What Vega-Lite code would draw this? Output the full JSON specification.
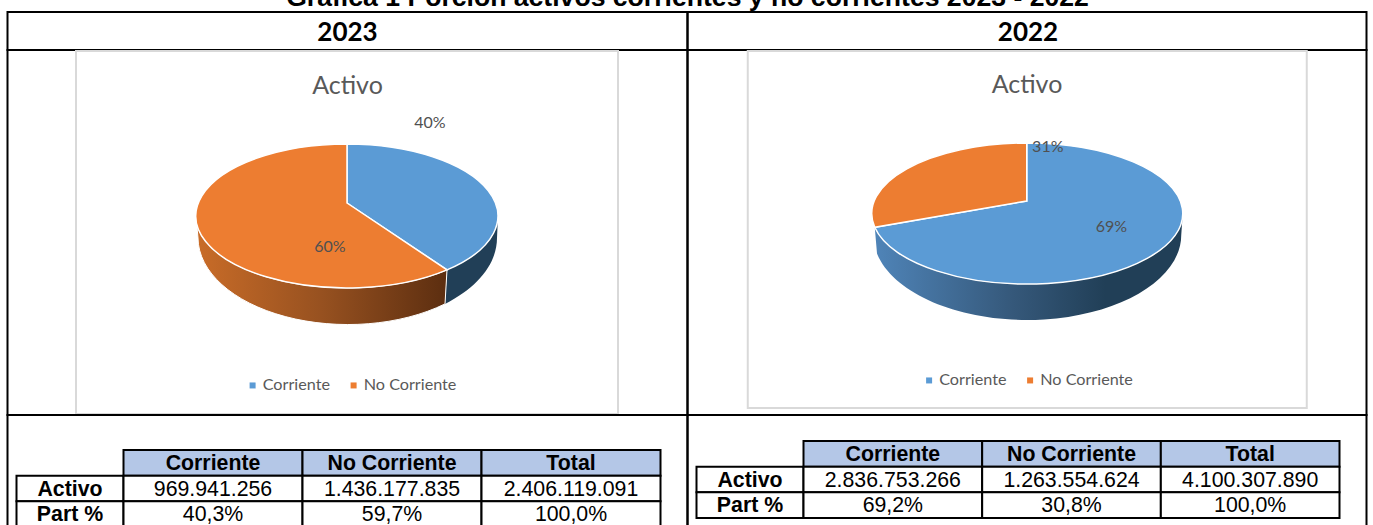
{"$schema":"https://vega.github.io/schema/vega-lite/v6.json","background":"white","padding":{"left":6.5,"top":0,"right":0,"bottom":0},"spacing":0,"config":{"view":{"stroke":null}},"resolve":{"scale":{"color":"independent","fill":"independent","shape":"independent"},"legend":{"color":"independent"}},"vconcat":[
{"width":1360,"height":11,"data":{"values":[{"titulo":"Gráfica 1 Porción activos corrientes y no corrientes 2023 - 2022"}]},"mark":{"type":"text","clip":true,"font":"Liberation Sans","fontWeight":"bold","fontSize":26.6,"baseline":"alphabetic","dy":0,"color":"black"},"encoding":{"text":{"field":"titulo"}}},
{"columns":2,"bounds":"flush","spacing":0,"resolve":{"scale":{"color":"independent","fill":"independent","shape":"independent"},"legend":{"color":"independent"}},"concat":[
{"width":680,"height":38,"view":{"stroke":"black","strokeWidth":2},"data":{"values":[{"anio":"2023"}]},"mark":{"type":"text","font":"Lato","fontWeight":"bold","fontSize":26,"color":"black","dy":2},"encoding":{"text":{"field":"anio"}}},
{"width":679,"height":38,"view":{"stroke":"black","strokeWidth":2},"data":{"values":[{"anio":"2022"}]},"mark":{"type":"text","font":"Lato","fontWeight":"bold","fontSize":26,"color":"black","dy":2,"dx":1},"encoding":{"text":{"field":"anio"}}},
{"width":680,"height":365,"view":{"stroke":"black","strokeWidth":2},"data":{"values":[{"Segmento":"Corriente","sector":"Corriente","pct":"40%"},{"Segmento":"No Corriente","sector":"No Corriente","pct":"60%"}]},"layer":[
{"data":{"values":[{"e":"marco"}]},"mark":{"type":"point","shape":"M-271.5,-181.5H270.5V181.5H-271.5Z","size":4,"filled":false,"stroke":"#D9D9D9","strokeWidth":2,"opacity":1}},
{"data":{"values":[{"titulo":"Activo"}]},"mark":{"type":"text","font":"Lato","fontSize":25,"color":"#595959","dy":-147},"encoding":{"text":{"field":"titulo"}}},
{"transform":[{"filter":"datum.Segmento==='Corriente'"}],"mark":{"type":"point","shape":"M99.5,37.4A151,72 0 0 0 150.5,-16.5L149.5,5.5A150,87 0 0 1 97.5,71.4Z","size":4,"filled":true,"opacity":1,"fill":"#213F57"}},
{"transform":[{"filter":"datum.Segmento==='No Corriente'"}],"mark":{"type":"point","shape":"M99.5,37.4A151,72 0 0 1 -151.5,-16.5L-149.5,5.5A150,87 0 0 0 97.5,71.4Z","size":4,"filled":true,"opacity":1,"stroke":"white","strokeWidth":1,"fill":{"gradient":"linear","x1":0,"y1":0,"x2":1,"y2":0,"stops":[{"offset":0,"color":"#C96C28"},{"offset":0.5,"color":"#975120"},{"offset":1,"color":"#5C2E10"}]}}},
{"mark":{"type":"point","size":4,"filled":true,"opacity":1,"stroke":"white","strokeWidth":1.5},"encoding":{"shape":{"field":"sector","type":"nominal","legend":null,"scale":{"domain":["No Corriente","Corriente"],"range":["M-0.5,-29.5L99.5,37.4A151,72 0 1 1 -0.5,-88.5Z","M-0.5,-29.5L-0.5,-88.5A151,72 0 0 1 99.5,37.4Z"]}},"fill":{"field":"Segmento","type":"nominal","legend":null,"scale":{"domain":["No Corriente","Corriente"],"range":["#ED7D31","#5B9BD5"]}}}},
{"mark":{"type":"point","size":1,"filled":true,"opacity":0},"encoding":{"color":{"field":"Segmento","type":"nominal","scale":{"domain":["Corriente","No Corriente"],"range":["#5B9BD5","#ED7D31"]},"legend":{"orient":"none","legendX":237,"legendY":327,"direction":"horizontal","title":null,"symbolType":"square","symbolSize":36,"symbolOpacity":1,"symbolStrokeWidth":0,"labelFont":"Lato","labelFontSize":16.2,"labelColor":"#595959","columnPadding":15,"labelOffset":2}}}},
{"transform":[{"filter":"datum.Segmento==='Corriente'"}],"mark":{"type":"text","font":"Lato","fontSize":16,"color":"#505050","dx":82.5,"dy":-109.5},"encoding":{"text":{"field":"pct"}}},
{"transform":[{"filter":"datum.Segmento==='No Corriente'"}],"mark":{"type":"text","font":"Lato","fontSize":16,"color":"#505050","dx":-17.5,"dy":14},"encoding":{"text":{"field":"pct"}}}
]},
{"width":679,"height":365,"view":{"stroke":"black","strokeWidth":2},"data":{"values":[{"Segmento":"Corriente","sector":"Corriente","pct":"69%"},{"Segmento":"No Corriente","sector":"No Corriente","pct":"31%"}]},"layer":[
{"data":{"values":[{"e":"marco"}]},"mark":{"type":"point","shape":"M-279.25,-181.5H279.75V175.5H-279.25Z","size":4,"filled":false,"stroke":"#D9D9D9","strokeWidth":2,"opacity":1}},
{"data":{"values":[{"titulo":"Activo"}]},"mark":{"type":"text","font":"Lato","fontSize":25,"color":"#595959","dy":-148},"encoding":{"text":{"field":"titulo"}}},
{"transform":[{"filter":"datum.Segmento==='Corriente'"}],"mark":{"type":"point","shape":"M-152.25,-5.2A155.5,70.5 0 0 0 155.75,-19L154.25,2.5A154,85 0 0 1 -150,21.1Z","size":4,"filled":true,"opacity":1,"fill":{"gradient":"linear","x1":0,"y1":0,"x2":1,"y2":0,"stops":[{"offset":0,"color":"#4F84B8"},{"offset":0.45,"color":"#35587A"},{"offset":0.75,"color":"#213F57"},{"offset":1,"color":"#213F57"}]}}},
{"mark":{"type":"point","size":4,"filled":true,"opacity":1,"stroke":"white","strokeWidth":1.5},"encoding":{"shape":{"field":"sector","type":"nominal","legend":null,"scale":{"domain":["No Corriente","Corriente"],"range":["M-0.25,-31.5L-152.25,-5.2A155.5,70.5 0 0 1 -0.25,-89.5Z","M-0.25,-31.5L-0.25,-89.5A155.5,70.5 0 1 1 -152.25,-5.2Z"]}},"fill":{"field":"Segmento","type":"nominal","legend":null,"scale":{"domain":["No Corriente","Corriente"],"range":["#ED7D31","#5B9BD5"]}}}},
{"mark":{"type":"point","size":1,"filled":true,"opacity":0},"encoding":{"color":{"field":"Segmento","type":"nominal","scale":{"domain":["Corriente","No Corriente"],"range":["#5B9BD5","#ED7D31"]},"legend":{"orient":"none","legendX":233.5,"legendY":322,"direction":"horizontal","title":null,"symbolType":"square","symbolSize":36,"symbolOpacity":1,"symbolStrokeWidth":0,"labelFont":"Lato","labelFontSize":16.2,"labelColor":"#595959","columnPadding":15,"labelOffset":2}}}},
{"transform":[{"filter":"datum.Segmento==='Corriente'"}],"mark":{"type":"text","font":"Lato","fontSize":16,"color":"#505050","dx":84.5,"dy":-5.5},"encoding":{"text":{"field":"pct"}}},
{"transform":[{"filter":"datum.Segmento==='No Corriente'"}],"mark":{"type":"text","font":"Lato","fontSize":16,"color":"#505050","dx":20.8,"dy":-86},"encoding":{"text":{"field":"pct"}}}
]},
{"width":680,"height":115,"view":{"stroke":"black","strokeWidth":2},"data":{"values":[
{"fila":"Activo","columna":"Etiqueta","texto":"Activo"},{"fila":"Part %","columna":"Etiqueta","texto":"Part %"},
{"fila":"Encabezado","columna":"Corriente","texto":"Corriente"},{"fila":"Encabezado","columna":"No Corriente","texto":"No Corriente"},{"fila":"Encabezado","columna":"Total","texto":"Total"},
{"fila":"Activo","columna":"Corriente","texto":"969.941.256"},{"fila":"Activo","columna":"No Corriente","texto":"1.436.177.835"},{"fila":"Activo","columna":"Total","texto":"2.406.119.091"},
{"fila":"Part %","columna":"Corriente","texto":"40,3%"},{"fila":"Part %","columna":"No Corriente","texto":"59,7%"},{"fila":"Part %","columna":"Total","texto":"100,0%"}]},
"encoding":{"y":{"field":"fila","type":"nominal","axis":null,"scale":{"domain":["Encabezado","Activo","Part %"],"range":[35,112],"paddingInner":0,"paddingOuter":0}}},
"resolve":{"scale":{"x":"independent"}},
"layer":[
{"transform":[{"filter":"datum.columna==='Etiqueta'"}],"encoding":{"x":{"field":"columna","type":"nominal","axis":null,"scale":{"domain":["Etiqueta"],"range":[9,116],"paddingInner":0,"paddingOuter":0}}},"layer":[{"mark":{"type":"rect","fill":"white","stroke":"black","strokeWidth":2}},{"mark":{"type":"text","font":"Liberation Sans","fontWeight":"bold","fontSize":21.3,"color":"black","dy":1},"encoding":{"text":{"field":"texto"}}}]},
{"transform":[{"filter":"datum.columna!=='Etiqueta'"}],"encoding":{"x":{"field":"columna","type":"nominal","axis":null,"scale":{"domain":["Corriente","No Corriente","Total"],"range":[116,653],"paddingInner":0,"paddingOuter":0}}},"layer":[{"mark":{"type":"rect","stroke":"black","strokeWidth":2},"encoding":{"fill":{"field":"fila","type":"nominal","legend":null,"scale":{"domain":["Encabezado","Activo","Part %"],"range":["#B4C7E7","#FFFFFF","#FFFFFF"]}}}},{"transform":[{"filter":"datum.fila==='Encabezado'"}],"mark":{"type":"text","font":"Liberation Sans","fontWeight":"bold","fontSize":21.3,"color":"black","dy":1},"encoding":{"text":{"field":"texto"}}},{"transform":[{"filter":"datum.fila!=='Encabezado'"}],"mark":{"type":"text","font":"Liberation Sans","fontSize":21.3,"color":"black","dy":1},"encoding":{"text":{"field":"texto"}}}]}
]},
{"width":679,"height":115,"view":{"stroke":"black","strokeWidth":2},"data":{"values":[
{"fila":"Activo","columna":"Etiqueta","texto":"Activo"},{"fila":"Part %","columna":"Etiqueta","texto":"Part %"},
{"fila":"Encabezado","columna":"Corriente","texto":"Corriente"},{"fila":"Encabezado","columna":"No Corriente","texto":"No Corriente"},{"fila":"Encabezado","columna":"Total","texto":"Total"},
{"fila":"Activo","columna":"Corriente","texto":"2.836.753.266"},{"fila":"Activo","columna":"No Corriente","texto":"1.263.554.624"},{"fila":"Activo","columna":"Total","texto":"4.100.307.890"},
{"fila":"Part %","columna":"Corriente","texto":"69,2%"},{"fila":"Part %","columna":"No Corriente","texto":"30,8%"},{"fila":"Part %","columna":"Total","texto":"100,0%"}]},
"encoding":{"y":{"field":"fila","type":"nominal","axis":null,"scale":{"domain":["Encabezado","Activo","Part %"],"range":[26,103],"paddingInner":0,"paddingOuter":0}}},
"resolve":{"scale":{"x":"independent"}},
"layer":[
{"transform":[{"filter":"datum.columna==='Etiqueta'"}],"encoding":{"x":{"field":"columna","type":"nominal","axis":null,"scale":{"domain":["Etiqueta"],"range":[9,116],"paddingInner":0,"paddingOuter":0}}},"layer":[{"mark":{"type":"rect","fill":"white","stroke":"black","strokeWidth":2}},{"mark":{"type":"text","font":"Liberation Sans","fontWeight":"bold","fontSize":21.3,"color":"black","dy":1},"encoding":{"text":{"field":"texto"}}}]},
{"transform":[{"filter":"datum.columna!=='Etiqueta'"}],"encoding":{"x":{"field":"columna","type":"nominal","axis":null,"scale":{"domain":["Corriente","No Corriente","Total"],"range":[116,652],"paddingInner":0,"paddingOuter":0}}},"layer":[{"mark":{"type":"rect","stroke":"black","strokeWidth":2},"encoding":{"fill":{"field":"fila","type":"nominal","legend":null,"scale":{"domain":["Encabezado","Activo","Part %"],"range":["#B4C7E7","#FFFFFF","#FFFFFF"]}}}},{"transform":[{"filter":"datum.fila==='Encabezado'"}],"mark":{"type":"text","font":"Liberation Sans","fontWeight":"bold","fontSize":21.3,"color":"black","dy":1},"encoding":{"text":{"field":"texto"}}},{"transform":[{"filter":"datum.fila!=='Encabezado'"}],"mark":{"type":"text","font":"Liberation Sans","fontSize":21.3,"color":"black","dy":1},"encoding":{"text":{"field":"texto"}}}]}
]}
]}
]}
